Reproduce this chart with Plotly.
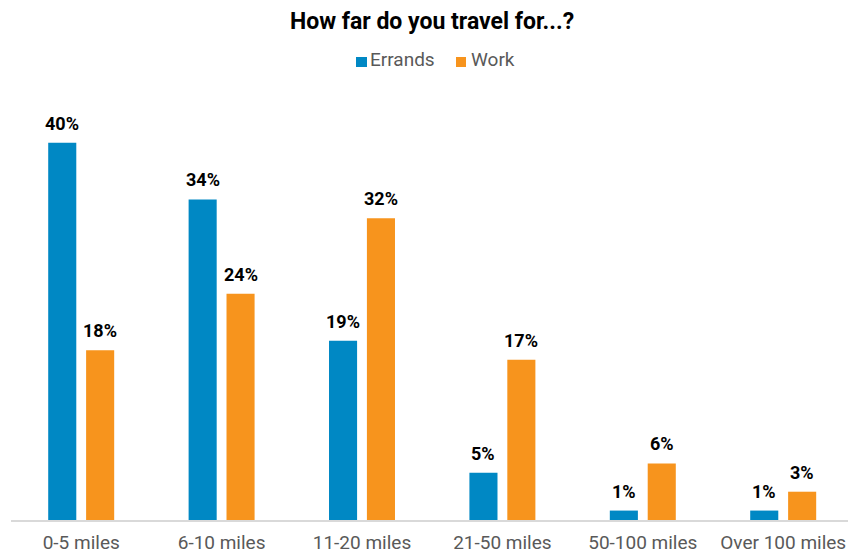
import plotly.graph_objects as go

categories = ["0-5 miles", "6-10 miles", "11-20 miles", "21-50 miles", "50-100 miles", "Over 100 miles"]
errands = [40, 34, 19, 5, 1, 1]
work = [18, 24, 32, 17, 6, 3]
series_names = ["Errands", "Work"]
colors = ["#0088C4", "#F7941D"]

W, H = 848, 555
ml, mr, mt, mb = 11, 0, 100, 35
px_per_unit = 140.4
plot_w = W - ml - mr
plot_h = H - mt - mb
x_hi = -0.5 + plot_w / px_per_unit
y_hi = plot_h / 9.43


def px(xfig):
    return (xfig - ml) / plot_w


def py(yfig):
    return (H - mb - yfig) / plot_h


FONT = "Roboto"
fig = go.Figure()
offsets = [-0.235, 0.035]
idx = list(range(len(categories)))
for name, vals, col, off in zip(series_names, [errands, work], colors, offsets):
    fig.add_trace(go.Bar(
        x=idx, y=vals, name=name, marker=dict(color=col, line=dict(width=0)),
        width=0.2, offset=off, showlegend=False,
    ))
    for i, v in enumerate(vals):
        fig.add_annotation(x=i + off + 0.1, y=v, text=f"<b>{v}%</b>", showarrow=False,
                           yanchor="bottom", yshift=7,
                           font=dict(size=18, color="#000000", family=FONT))

# legend (squares + labels)
legend_items = [(356, 367, 368), (456, 466, 469)]
for (sx0, sx1, tx), name, col in zip(legend_items, series_names, colors):
    fig.add_shape(type="rect", xref="paper", yref="paper",
                  x0=px(sx0), x1=px(sx1), y0=py(67), y1=py(57),
                  fillcolor=col, line=dict(width=0))
    fig.add_annotation(xref="paper", yref="paper", x=px(tx), y=py(60),
                       xanchor="left", yanchor="middle", text=name, showarrow=False,
                       font=dict(size=19, color="#595959", family=FONT))

fig.update_layout(
    width=W, height=H,
    margin=dict(l=ml, r=mr, t=mt, b=mb),
    paper_bgcolor="white", plot_bgcolor="white",
    title=dict(text="<b>How far do you travel for...?</b>", x=432 / W, xanchor="center",
               y=1 - 21 / H, yanchor="middle",
               font=dict(size=23, color="#000000", family=FONT)),
    showlegend=False,
    font=dict(family=FONT),
)
fig.update_xaxes(tickmode="array", tickvals=idx, ticktext=categories,
                 range=[-0.5, x_hi], showgrid=False, showline=True,
                 linecolor="#D9D9D9", linewidth=1.5, ticks="", ticklabelstandoff=4,
                 ticklabeloverflow="allow",
                 tickfont=dict(size=19, color="#595959", family=FONT), fixedrange=True)
fig.update_yaxes(range=[0, y_hi], visible=False, showgrid=False, zeroline=False)

fig.write_html("out.html", config={"displayModeBar": False},
               post_script="document.body.style.margin='0';"
                           "document.documentElement.style.overflow='hidden';")
